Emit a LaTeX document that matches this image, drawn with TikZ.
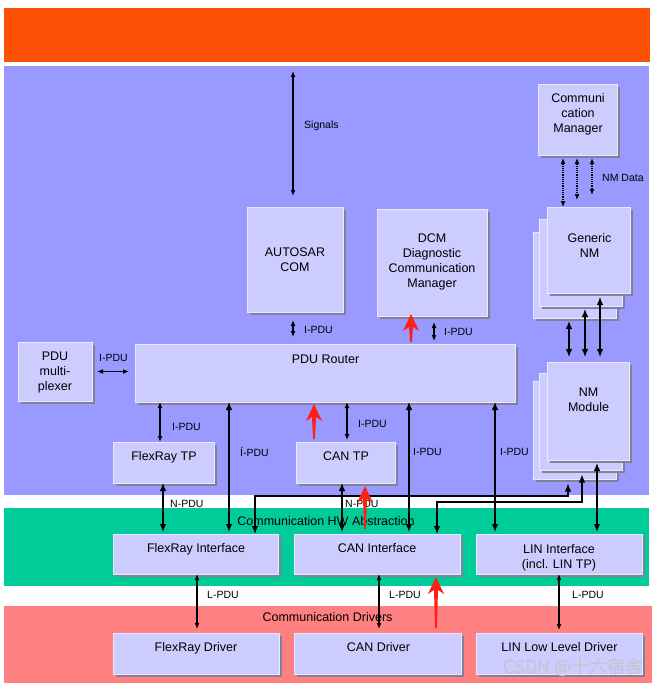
\documentclass[tikz,border=0pt]{standalone}
\usepackage{fontspec}
\setmainfont{Liberation Sans}
\newfontfamily\cjkfont{Noto Sans CJK SC}
\usetikzlibrary{arrows.meta,shadows}
\definecolor{bandorange}{RGB}{255,80,8}
\definecolor{bandblue}{RGB}{153,153,255}
\definecolor{bandgreen}{RGB}{0,204,153}
\definecolor{bandpink}{RGB}{255,128,128}
\definecolor{boxfill}{RGB}{204,204,255}
\definecolor{boxedge}{RGB}{232,232,255}
\definecolor{boxshadow}{RGB}{128,128,150}
\definecolor{redmark}{RGB}{255,32,20}
\definecolor{wmark}{RGB}{196,196,206}
\newcommand\myredarrow[3]{\fill[redmark] (#1,#2) -- ++(8,17) -- ++(-6,-4) -- (#1+0.9,#3) -- (#1-0.9,#3) -- (#1-2,#2+13) -- (#1-8,#2+17) -- cycle;}
\tikzset{
  box/.style={draw=boxedge, fill=boxfill, line width=0.8pt, inner sep=0pt, outer sep=0pt, anchor=north west,
    drop shadow={shadow xshift=2.5pt, shadow yshift=-2.5pt, fill=boxshadow, opacity=1}},
  boxtext/.style={font=\fontsize{12.5}{15}\selectfont, align=center, inner sep=0pt, text=black},
  lbl/.style={font=\fontsize{10.5}{12}\selectfont, inner sep=0pt, anchor=west, text=black},
  bandlbl/.style={font=\fontsize{12.5}{15}\selectfont, inner sep=0pt, text=black},
  arr/.style={line width=1.2pt, {Latex[length=6pt,width=5pt]}-{Latex[length=6pt,width=5pt]}},
  arrL/.style={line width=1.2pt, {Latex[length=8pt,width=6.5pt]}-{Latex[length=8pt,width=6.5pt]}},
  darr/.style={arr, densely dotted},
}
\begin{document}
\begin{tikzpicture}[x=1pt,y=-1pt]
\useasboundingbox (0,0) rectangle (659,685);
\fill[white] (0,0) rectangle (659,685);
% bands
\fill[bandorange] (4,8) rectangle (650,62);
\fill[bandblue] (4,66) rectangle (649,495);
\fill[bandgreen] (4,508) rectangle (649,586);
\fill[bandpink] (4,606) rectangle (652,683);
\node[bandlbl] (hwlbl) at (326,521) {Communication HW Abstraction};
\node[bandlbl] (drvlbl) at (327.5,617) {Communication Drivers};
% helper x coordinates
\foreach \xx in {97,160,163,197,229,255,293,342,347,379,409,434,437,495,559,563,568,569,577,582,585,592,597,600}{
  \coordinate (x\xx) at (\xx,0);
}
\coordinate (sigTop) at (293,71);
% boxes
\node[box, minimum width=79pt, minimum height=71pt] (CM) at (538,84) {};
\node[box, minimum width=96pt, minimum height=105pt] (AC) at (247,207) {};
\node[box, minimum width=110pt, minimum height=107pt] (DCM) at (377,209) {};
\node[box, minimum width=83pt, minimum height=86pt] (GNM3) at (533,232) {};
\node[box, minimum width=83pt, minimum height=87pt] (GNM2) at (539,219) {};
\node[box, minimum width=83pt, minimum height=86pt] (GNM) at (547,207) {};
\node[box, minimum width=380pt, minimum height=58pt] (PR) at (135,344) {};
\node[box, minimum width=74pt, minimum height=59pt] (MUX) at (18,342) {};
\node[box, minimum width=83pt, minimum height=98pt] (NMM3) at (533,381) {};
\node[box, minimum width=83pt, minimum height=97pt] (NMM2) at (539,373) {};
\node[box, minimum width=82pt, minimum height=98pt] (NMM) at (547,362) {};
\node[box, minimum width=101pt, minimum height=41pt] (FTP) at (113,442) {};
\node[box, minimum width=99pt, minimum height=41pt] (CTP) at (296,442) {};
\node[box, minimum width=165pt, minimum height=40pt] (FI) at (113,534) {};
\node[box, minimum width=166pt, minimum height=40pt] (CI) at (294,534) {};
\node[box, minimum width=166pt, minimum height=40pt] (LI) at (476,534) {};
\node[box, minimum width=166pt, minimum height=41pt] (FD) at (113,633) {};
\node[box, minimum width=167pt, minimum height=41pt] (CD) at (294,633) {};
\node[box, minimum width=166pt, minimum height=41pt] (LD) at (476,633) {};
% box texts
\node[boxtext] (CMt) at (578,114.5) {Communi\\cation\\Manager};
\node[boxtext] (ACt) at (295,259.5) {AUTOSAR\\COM};
\node[boxtext] (DCMt) at (432,261.5) {DCM\\Diagnostic\\Communication\\Manager};
\node[boxtext] (GNMt) at (589.5,245.5) {Generic\\NM};
\node[boxtext] (PRt) at (325.5,359) {PDU Router};
\node[boxtext] (MUXt) at (55,372.5) {PDU\\multi-\\plexer};
\node[boxtext] (NMMt) at (588.5,399.5) {NM\\Module};
\node[boxtext] (FTPt) at (164,457) {FlexRay TP};
\node[boxtext] (CTPt) at (346,456.5) {CAN TP};
\node[boxtext] (FIt) at (196,549) {FlexRay Interface};
\node[boxtext] (CIt) at (377,548.5) {CAN Interface};
\node[boxtext] (LIt) at (559,557.5) {LIN Interface\\(incl. LIN TP)};
\node[boxtext] (FDt) at (196,648) {FlexRay Driver};
\node[boxtext] (CDt) at (378.5,647.5) {CAN Driver};
\node[boxtext] (LDt) at (559.5,647.5) {LIN Low Level Driver};
% connectors
\draw[arr, shorten >=11pt] (sigTop) -- (AC.north -| x293);
\draw[arr, shorten <=8pt, shorten >=7pt] (AC.south -| x293) -- (PR.north -| x293);
\draw[arr, shorten <=6pt, shorten >=3pt] (DCM.south -| x434) -- (PR.north -| x434);
\draw[arr, shorten <=5pt, shorten >=6pt] (MUX.east) -- (MUX.east -| PR.west);
\draw[darr, shorten <=3pt] (CM.south -| x563) -- (GNM.north -| x563);
\draw[darr, shorten <=3pt, shorten >=7pt] (CM.south -| x577) -- (GNM.north -| x577);
\draw[darr, shorten <=3pt, shorten >=12pt] (CM.south -| x592) -- (GNM.north -| x592);
\draw[arrL, shorten <=3pt, shorten >=5pt] (GNM3.south -| x569) -- (NMM.north -| x569);
\draw[arrL, shorten <=3pt, shorten >=5pt] (GNM2.south -| x585) -- (NMM.north -| x585);
\draw[arrL, shorten <=4pt, shorten >=5pt] (GNM.south -| x600) -- (NMM.north -| x600);
\draw[arr] (PR.south -| x160) -- (FTP.north -| x160);
\draw[arrL, shorten >=2pt] (PR.south -| x229) -- (FI.north -| x229);
\draw[arr, shorten >=2pt] (PR.south -| x347) -- (CTP.north -| x347);
\draw[arrL, shorten >=2pt] (PR.south -| x409) -- (CI.north -| x409);
\draw[arrL, shorten >=2pt] (PR.south -| x495) -- (LI.north -| x495);
\draw[arrL, shorten >=2pt] (FTP.south -| x163) -- (FI.north -| x163);
\draw[arrL, shorten >=2pt] (CTP.south -| x342) -- (CI.north -| x342);
\draw[arrL, shorten >=2pt] (FI.north -| x255) -- ++(0,-38) -| ([yshift=-2.5pt]NMM3.south -| x568);
\draw[arrL, shorten >=2pt] (CI.north -| x437) -- ++(0,-32) -| ([yshift=-2.5pt]NMM2.south -| x582);
\draw[arrL, shorten >=2pt, shorten <=3pt] (NMM.south -| x597) -- (LI.north -| x597);
\draw[arr, shorten >=4pt] (FI.south -| x197) -- (FD.north -| x197);
\draw[arr, shorten >=4pt] (CI.south -| x379) -- (CD.north -| x379);
\draw[arr, shorten >=3pt] (LI.south -| x559) -- (LD.north -| x559);
% labels
\node[lbl] (sigl) at (304,125.5) {Signals};
\node[lbl] (nmdl) at (602,177.5) {NM Data};
\node[lbl] (l1) at (304,330) {I-PDU};
\node[lbl] (l2) at (444,332) {I-PDU};
\node[lbl] (l3) at (99,358) {I-PDU};
\node[lbl] (l4) at (172,427) {I-PDU};
\node[lbl] (l5) at (240,451.5) {Í-PDU};
\node[lbl] (l6) at (358,424) {I-PDU};
\node[lbl] (l7) at (413,451.5) {I-PDU};
\node[lbl] (l8) at (500,451.5) {I-PDU};
\node[lbl] (l9) at (170,504) {N-PDU};
\node[lbl] (l10) at (345,504) {N-PDU};
\node[lbl] (l11) at (207,595) {L-PDU};
\node[lbl] (l12) at (389,595) {L-PDU};
\node[lbl] (l13) at (572,595) {L-PDU};
% red annotation arrows
\myredarrow{411}{314}{342}
\myredarrow{314}{404}{439}
\myredarrow{365}{486}{529}
\myredarrow{436}{577}{628}
% watermark
\node[font=\cjkfont\fontsize{18}{18}\selectfont, text=wmark, anchor=east, inner sep=0pt] (wm) at (644,667) {CSDN @十六宿舍};
\end{tikzpicture}
\end{document}
